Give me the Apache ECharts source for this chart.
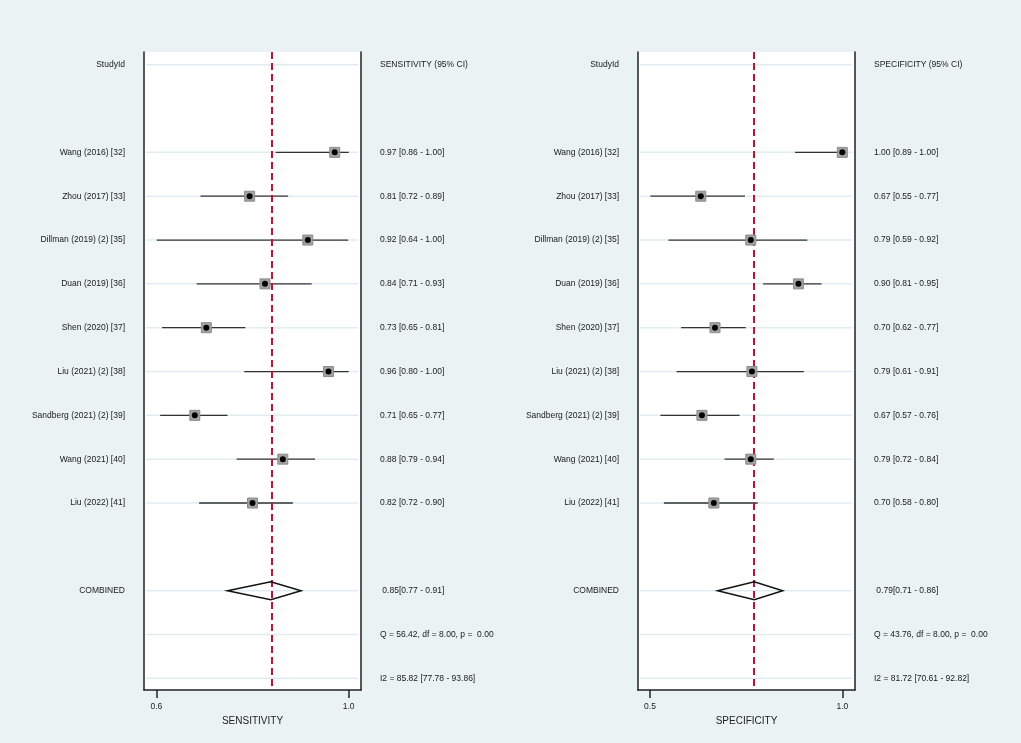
<!DOCTYPE html>
<html lang="en">
<head>
<meta charset="UTF-8">
<title>Forest plot</title>
<script src="https://cdn.jsdelivr.net/npm/echarts@6/dist/echarts.min.js"></script>
<style>
  html, body { margin: 0; padding: 0; background: #eaf2f3; }
  #main { width: 1021px; height: 743px; }
</style>
</head>
<body>
<div id="main"></div>
<script type="text/javascript">

// study labels and printed estimates
var studies = ['Wang (2016) [32]', 'Zhou (2017) [33]', 'Dillman (2019) (2) [35]', 'Duan (2019) [36]',
               'Shen (2020) [37]', 'Liu (2021) (2) [38]', 'Sandberg (2021) (2) [39]', 'Wang (2021) [40]', 'Liu (2022) [41]'];
var sensText = ['0.97 [0.86 - 1.00]', '0.81 [0.72 - 0.89]', '0.92 [0.64 - 1.00]', '0.84 [0.71 - 0.93]', '0.73 [0.65 - 0.81]',
                '0.96 [0.80 - 1.00]', '0.71 [0.65 - 0.77]', '0.88 [0.79 - 0.94]', '0.82 [0.72 - 0.90]'];
var specText = ['1.00 [0.89 - 1.00]', '0.67 [0.55 - 0.77]', '0.79 [0.59 - 0.92]', '0.90 [0.81 - 0.95]', '0.70 [0.62 - 0.77]',
                '0.79 [0.61 - 0.91]', '0.67 [0.57 - 0.76]', '0.79 [0.72 - 0.84]', '0.70 [0.58 - 0.80]'];

// plotted positions
var sensPt = [0.971, 0.794, 0.915, 0.826, 0.704, 0.958, 0.680, 0.863, 0.800];
var sensLo = [0.848, 0.692, 0.601, 0.684, 0.612, 0.783, 0.608, 0.767, 0.689];
var sensHi = [1.000, 0.874, 0.999, 0.923, 0.785, 1.000, 0.748, 0.930, 0.884];
var sensPooled = [0.748, 0.838, 0.901];   // lo, pt, hi

var specPt = [1.000, 0.632, 0.762, 0.886, 0.669, 0.765, 0.635, 0.762, 0.666];
var specLo = [0.877, 0.501, 0.548, 0.794, 0.581, 0.569, 0.527, 0.694, 0.536];
var specHi = [1.012, 0.747, 0.909, 0.946, 0.749, 0.900, 0.733, 0.822, 0.780];
var specPooled = [0.676, 0.771, 0.845];

var sensTicks = [0.6, 1.0];
var specTicks = [0.5, 1.0];

// rows: 0 header, 2..10 studies, 12 combined, 13 Q, 14 I2
var studyRows = [2, 3, 4, 5, 6, 7, 8, 9, 10];
var gridRows = [0, 2, 3, 4, 5, 6, 7, 8, 9, 10, 12, 13, 14];

var FONT = '"Liberation Sans", Arial, sans-serif';
var Y_MIN = -0.29, Y_MAX = 14.266;

var panels = [
    { left: 144, xMin: 0.5744, xMax: 1.0256, ticks: sensTicks, title: 'SENSITIVITY',
      header: 'SENSITIVITY (95% CI)', texts: sensText, pt: sensPt, lo: sensLo, hi: sensHi, pooled: sensPooled,
      pooledText: ' 0.85[0.77 - 0.91]', qText: 'Q = 56.42, df = 8.00, p =  0.00', i2Text: 'I2 = 85.82 [77.78 - 93.86]' },
    { left: 638, xMin: 0.4688, xMax: 1.0330, ticks: specTicks, title: 'SPECIFICITY',
      header: 'SPECIFICITY (95% CI)', texts: specText, pt: specPt, lo: specLo, hi: specHi, pooled: specPooled,
      pooledText: ' 0.79[0.71 - 0.86]', qText: 'Q = 43.76, df = 8.00, p =  0.00', i2Text: 'I2 = 81.72 [70.61 - 92.82]' }
];

var grids = [], xAxes = [], yAxes = [], series = [];

panels.forEach(function (p, i) {
    grids.push({ left: p.left, top: 52, width: 217, height: 638, show: true,
                 backgroundColor: '#ffffff', borderWidth: 0 });

    xAxes.push({
        gridIndex: i, type: 'value', position: 'bottom', min: p.xMin, max: p.xMax,
        axisLine: { show: true, onZero: false, lineStyle: { color: '#222', width: 1.5 } },
        axisTick: { show: true, customValues: p.ticks, length: 8, lineStyle: { color: '#222', width: 1.5 } },
        axisLabel: { customValues: p.ticks, margin: 12, fontSize: 8.5, fontFamily: FONT, color: '#222',
                     formatter: function (v) { return v.toFixed(1); } },
        splitLine: { show: false },
        name: p.title, nameLocation: 'middle', nameGap: 22,
        nameTextStyle: { fontSize: 10, fontFamily: FONT, color: '#222' }
    });

    ['left', 'right'].forEach(function (pos) {
        yAxes.push({
            gridIndex: i, type: 'value', position: pos, inverse: true, min: Y_MIN, max: Y_MAX,
            axisLine: { show: true, onZero: false, lineStyle: { color: '#222', width: 1.5 } },
            axisTick: { show: false }, axisLabel: { show: false }, splitLine: { show: false }
        });
    });

    var ax = { xAxisIndex: i, yAxisIndex: 2 * i };

    // light row lines
    series.push(Object.assign({
        type: 'custom', z: 1, silent: true,
        data: gridRows.map(function (r) { return [p.xMin, r]; }),
        renderItem: function (params, api) {
            var a = api.coord([p.xMin, api.value(1)]);
            var b = api.coord([p.xMax, api.value(1)]);
            return { type: 'line', shape: { x1: a[0] + 2, y1: a[1], x2: b[0] - 3, y2: b[1] },
                     style: { stroke: '#e1ecf0', lineWidth: 1.5 } };
        }
    }, ax));

    // confidence intervals
    series.push(Object.assign({
        type: 'custom', z: 2, silent: true,
        data: studyRows.map(function (r, k) { return [p.lo[k], p.hi[k], r]; }),
        renderItem: function (params, api) {
            var a = api.coord([api.value(0), api.value(2)]);
            var b = api.coord([api.value(1), api.value(2)]);
            return { type: 'line', shape: { x1: a[0], y1: a[1], x2: b[0], y2: b[1] },
                     style: { stroke: '#333', lineWidth: 1.3 } };
        }
    }, ax));

    // squares + dots
    series.push(Object.assign({
        type: 'scatter', z: 4, silent: true, symbol: 'rect', symbolSize: 10,
        itemStyle: { color: '#a2a2a2', borderColor: '#8c8c8c', borderWidth: 1, opacity: 1 },
        data: studyRows.map(function (r, k) { return [p.pt[k], r]; }),
        markLine: {
            symbol: 'none', silent: true, label: { show: false }, z: 3,
            lineStyle: { color: '#c8102e', type: [7, 4], width: 2 },
            data: [{ xAxis: p.pooled[1] }]
        }
    }, ax));
    series.push(Object.assign({
        type: 'scatter', z: 5, silent: true, symbol: 'circle', symbolSize: 6,
        itemStyle: { color: '#000', opacity: 1 },
        data: studyRows.map(function (r, k) { return [p.pt[k], r]; })
    }, ax));

    // pooled diamond
    series.push(Object.assign({
        type: 'custom', z: 4, silent: true,
        data: [[p.pooled[0], p.pooled[1], p.pooled[2], 12]],
        renderItem: function (params, api) {
            var l = api.coord([api.value(0), api.value(3)]);
            var c = api.coord([api.value(1), api.value(3)]);
            var r = api.coord([api.value(2), api.value(3)]);
            return { type: 'polygon',
                     shape: { points: [[l[0], l[1]], [c[0], c[1] - 9], [r[0], r[1]], [c[0], c[1] + 9]] },
                     style: { fill: 'none', stroke: '#111', lineWidth: 1.5 } };
        }
    }, ax));

    // text columns
    var leftTexts = [['StudyId', 0]].concat(studies.map(function (s, k) { return [s, studyRows[k]]; }), [['COMBINED', 12]]);
    var rightTexts = [[p.header, 0]].concat(p.texts.map(function (s, k) { return [s, studyRows[k]]; }),
                     [[p.pooledText, 12], [p.qText, 13], [p.i2Text, 14]]);

    function textSeries(list, side) {
        return Object.assign({
            type: 'custom', z: 6, silent: true,
            data: list.map(function (t, k) { return [k, t[1]]; }),
            renderItem: function (params, api) {
                var row = api.value(1);
                var pt = api.coord([side === 'left' ? p.xMin : p.xMax, row]);
                return { type: 'text',
                         style: { text: list[params.dataIndex][0],
                                  x: side === 'left' ? pt[0] - 19 : pt[0] + 19, y: pt[1],
                                  align: side === 'left' ? 'right' : 'left', verticalAlign: 'middle',
                                  fill: '#1a1a1a', font: '8.5px ' + FONT } };
            }
        }, ax);
    }
    series.push(textSeries(leftTexts, 'left'));
    series.push(textSeries(rightTexts, 'right'));
});

var chart = echarts.init(document.getElementById('main'));
chart.setOption({
    backgroundColor: '#eaf2f3',
    animation: false,
    grid: grids,
    xAxis: xAxes,
    yAxis: yAxes,
    series: series
});

</script>
</body>
</html>
